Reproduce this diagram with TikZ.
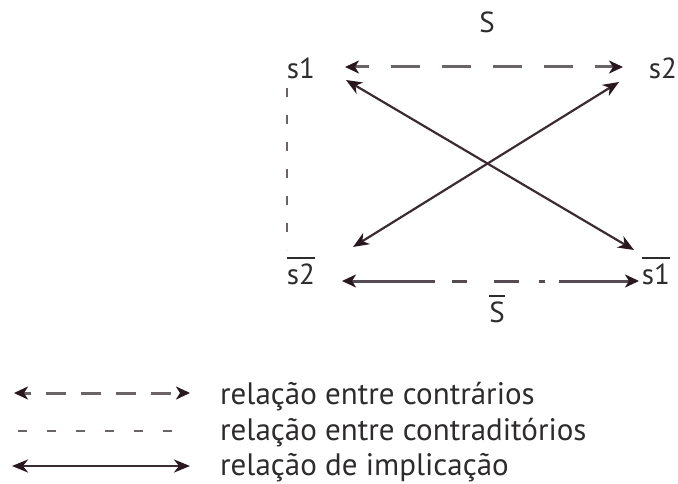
\documentclass[tikz,border=0pt]{standalone}
\usepackage{fontspec}
\setmainfont{PT Sans}
\usetikzlibrary{arrows.meta}
\definecolor{txt}{HTML}{2E2B2C}
\definecolor{tipc}{HTML}{2A1820}
\definecolor{dashc}{HTML}{6A6466}
\definecolor{solc}{HTML}{3A2C32}
\definecolor{midc}{HTML}{554B50}
\tikzset{
  lbl/.style={font=\fontsize{29}{32}\selectfont, text=txt, inner sep=0pt},
  leg/.style={font=\fontsize{31}{34}\selectfont, text=txt, inner sep=0pt, anchor=base west},
  overl/.style={draw=txt, line width=1.8pt},
  bigtip/.tip={Stealth[length=16pt,width=13pt,inset=5pt,color=tipc]},
  midtip/.tip={Stealth[length=14pt,width=13pt,inset=4pt,color=tipc]},
  contr/.style={draw=dashc, line width=3pt, dash pattern=on 29pt off 22pt, midtip-midtip},
  contrad/.style={draw=dashc, line width=2.6pt, dash pattern=on 9pt off 18pt},
  impl/.style={draw=solc, line width=2.2pt, bigtip-bigtip},
  mixed/.style={draw=midc, line width=3pt, dash pattern=on 84pt off 17pt on 15pt off 27pt on 25pt off 20pt on 6pt off 14pt on 120pt, midtip-midtip}
}
\begin{document}
\begin{tikzpicture}[x=1pt,y=-1pt]
\useasboundingbox (0,0) rectangle (678,484);
% labels
\node[lbl] (S) at (487,22) {S};
\node[lbl] (s1) at (301,68) {s1};
\node[lbl] (s2) at (663,68) {s2};
\node[lbl] (ns2) at (301,274) {s2};
\node[lbl] (ns1) at (656,274) {s1};
\node[lbl] (nS) at (497,312) {S};
\draw[overl] ([yshift=5pt]ns2.north west) -- ([yshift=5pt]ns2.north east);
\draw[overl] ([yshift=5pt]ns1.north west) -- ([yshift=5pt]ns1.north east);
\draw[overl] ([yshift=5pt]nS.north west) -- ([yshift=5pt]nS.north east);
% end coordinates
\coordinate (a1) at (345,67);
\coordinate (a2) at (623,67);
\coordinate (d1) at (346,80);
\coordinate (d2) at (634,250);
\coordinate (e1) at (353,247);
\coordinate (e2) at (619,82);
\coordinate (b1) at (342,281);
\coordinate (b2) at (639,281);
\coordinate (v1) at (287,88);
\coordinate (v2) at (287,250);
% connectors
\draw[contr, dash phase=14pt] (a1) -- (a2);
\draw[impl] (d1) -- (d2);
\draw[impl] (e1) -- (e2);
\draw[mixed] (b1) -- (b2);
\draw[contrad] (v1) -- (v2);
% legend
\coordinate (l1a) at (14,393);
\coordinate (l1b) at (190,393);
\coordinate (l2a) at (18,431);
\coordinate (l2b) at (175,431);
\coordinate (l3a) at (12,466);
\coordinate (l3b) at (190,466);
\draw[contr, dash pattern=on 20pt off 15pt, dash phase=12pt] (l1a) -- (l1b);
\draw[contrad, dash pattern=on 9pt off 20pt] (l2a) -- (l2b);
\draw[impl, line width=2.6pt] (l3a) -- (l3b);
\node[leg] (t1) at (220,404) {relação entre contrários};
\node[leg] (t2) at (220,440) {relação entre contraditórios};
\node[leg] (t3) at (220,475) {relação de implicação};
\end{tikzpicture}
\end{document}
